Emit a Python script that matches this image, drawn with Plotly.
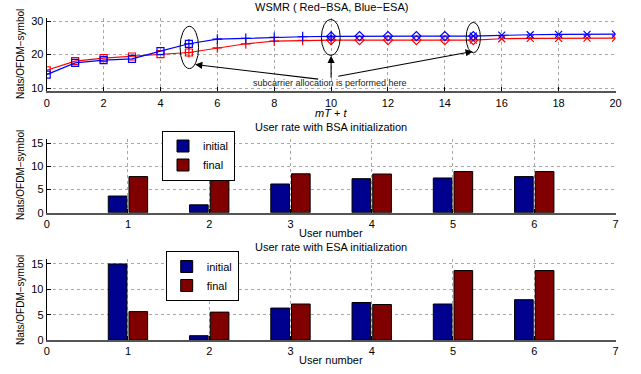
import plotly.graph_objects as go

# ---------------- data ----------------
t = list(range(21))
wsmr_bsa = [15.3, 18.0, 18.9, 19.4, 20.1, 20.6, 22.0, 23.2, 24.0, 24.2, 24.3,
            24.3, 24.3, 24.3, 24.3, 24.3, 24.7, 24.8, 24.8, 24.9, 24.9]
wsmr_esa = [14.0, 17.5, 18.3, 18.7, 21.0, 23.2, 24.6, 24.8, 25.1, 25.3, 25.4,
            25.5, 25.5, 25.5, 25.5, 25.5, 25.8, 25.9, 26.0, 26.0, 26.1]
segments = [(0, 5, "square-open"), (5, 10, "cross-thin-open"),
            (10, 15, "diamond-open"), (15, 20, "x-thin-open")]

users = [1, 2, 3, 4, 5, 6]
bsa_initial = [3.6, 1.7, 6.2, 7.35, 7.5, 7.8]
bsa_final = [7.8, 7.8, 8.4, 8.35, 8.9, 8.9]
esa_initial = [15.0, 0.85, 6.3, 7.4, 7.1, 7.95]
esa_final = [5.6, 5.5, 7.1, 7.0, 13.7, 13.7]

FONT = "Liberation Sans, Arial, Helvetica, sans-serif"
W, H = 641, 374

def py(px):
    return 1 - px / H

def pxx(px):
    return px / W

fig = go.Figure()

# ---------------- top: WSMR ----------------
for ys, col in [(wsmr_bsa, "#ff0000"), (wsmr_esa, "#0000ff")]:
    for a, b, sym in segments:
        fig.add_trace(go.Scatter(
            x=t[a:b + 1], y=ys[a:b + 1], mode="lines+markers",
            line=dict(color=col, width=1.2),
            marker=dict(symbol=sym, size=7, color=col, line=dict(color=col, width=1.2)),
            showlegend=False, xaxis="x", yaxis="y"))

# ---------------- bars ----------------
BLUE = "#00008f"
DRED = "#800000"
fig.add_trace(go.Bar(x=users, y=bsa_initial, name="initial", marker=dict(color=BLUE, line=dict(color="black", width=1)),
                     xaxis="x2", yaxis="y2", legend="legend2", offsetgroup="a"))
fig.add_trace(go.Bar(x=users, y=bsa_final, name="final", marker=dict(color=DRED, line=dict(color="black", width=1)),
                     xaxis="x2", yaxis="y2", legend="legend2", offsetgroup="b"))
fig.add_trace(go.Bar(x=users, y=esa_initial, name="initial", marker=dict(color=BLUE, line=dict(color="black", width=1)),
                     xaxis="x3", yaxis="y3", legend="legend3", offsetgroup="a"))
fig.add_trace(go.Bar(x=users, y=esa_final, name="final", marker=dict(color=DRED, line=dict(color="black", width=1)),
                     xaxis="x3", yaxis="y3", legend="legend3", offsetgroup="b"))

xdom = [pxx(46.7), pxx(615.5)]
common_ax = dict(showline=True, linecolor="black", linewidth=1, ticks="inside",
                 ticklen=4, tickcolor="black", showgrid=True, gridcolor="#a8a8a8",
                 griddash="dot", gridwidth=1, zeroline=False, automargin=False,
                 tickfont=dict(family=FONT, size=11, color="black"))
xbar_ax = dict(common_ax, linecolor="#555555", linewidth=2)

leg_common = dict(xanchor="left", yanchor="middle", bgcolor="white", bordercolor="black",
                  borderwidth=1, font=dict(family=FONT, size=11), tracegroupgap=0, itemwidth=30)

fig.update_layout(
    width=W, height=H, margin=dict(l=0, r=0, t=0, b=0, autoexpand=False),
    paper_bgcolor="white", plot_bgcolor="white",
    font=dict(family=FONT, size=11, color="black"),
    barmode="group", bargap=0.49, bargroupgap=0.1,
    xaxis=dict(domain=xdom, range=[0, 20], tickvals=list(range(0, 21, 2)), anchor="y", **xbar_ax),
    yaxis=dict(domain=[py(91.35), py(17.65)], range=[9, 31], tickvals=[10, 20, 30], anchor="x", **common_ax),
    xaxis2=dict(domain=xdom, range=[0, 7], tickvals=list(range(8)), anchor="y2", **xbar_ax),
    yaxis2=dict(domain=[py(212.7), py(138.6)], range=[0, 16], tickvals=[0, 5, 10, 15], anchor="x2", **common_ax),
    xaxis3=dict(domain=xdom, range=[0, 7], tickvals=list(range(8)), anchor="y3", **xbar_ax),
    yaxis3=dict(domain=[py(340), py(258.9)], range=[0, 16], tickvals=[0, 5, 10, 15], anchor="x3", **common_ax),
    legend2=dict(x=pxx(162), y=py(155.5), **leg_common),
    legend3=dict(x=pxx(165.7), y=py(276), **leg_common),
)

# ellipses
for x0, x1, y0, y1 in [(4.69, 5.34, 15.8, 28.4), (9.66, 10.32, 19.7, 30.5), (14.75, 15.25, 20.5, 29.6)]:
    fig.add_shape(type="circle", xref="x", yref="y", x0=x0, x1=x1, y0=y0, y1=y1,
                  line=dict(color="black", width=1))

# arrows
for (xt, yt), (xa, ya) in [((5.22, 17.0), (9.6, 12.6)), ((10.0, 19.6), (10.0, 12.6)), ((14.98, 20.9), (10.2, 13.4))]:
    fig.add_annotation(x=xt, y=yt, ax=xa, ay=ya, xref="x", yref="y", axref="x", ayref="y",
                       text="", showarrow=True, arrowhead=2, arrowsize=1.3, arrowwidth=1.1, arrowcolor="black")
fig.add_annotation(x=9.95, y=11.5, xref="x", yref="y", text="subcarrier allocation is performed here",
                   showarrow=False, font=dict(family=FONT, size=9, color="#222"))

# titles and axis labels
def label(text, x, y, size=11, angle=0):
    fig.add_annotation(x=pxx(x), y=py(y), xref="paper", yref="paper", text=text, showarrow=False,
                       textangle=angle, font=dict(family=FONT, size=size, color="black"),
                       xanchor="center", yanchor="middle")

label("WSMR ( Red−BSA, Blue−ESA)", 331, 7)
label("<i>mT</i> + <i>t</i>", 331, 113)
label("User rate with BSA initialization", 331, 127)
label("User number", 331, 233)
label("User rate with ESA initialization", 331, 247)
label("User number", 331, 360)
label("Nats/OFDM−symbol", 20, 54, size=10, angle=-90)
label("Nats/OFDM−symbol", 20, 175, size=10, angle=-90)
label("Nats/OFDM−symbol", 20, 300, size=10, angle=-90)

fig.write_html("out.html", config={"displayModeBar": False},
               post_script="document.body.style.margin='0';document.body.style.overflow='hidden';")
